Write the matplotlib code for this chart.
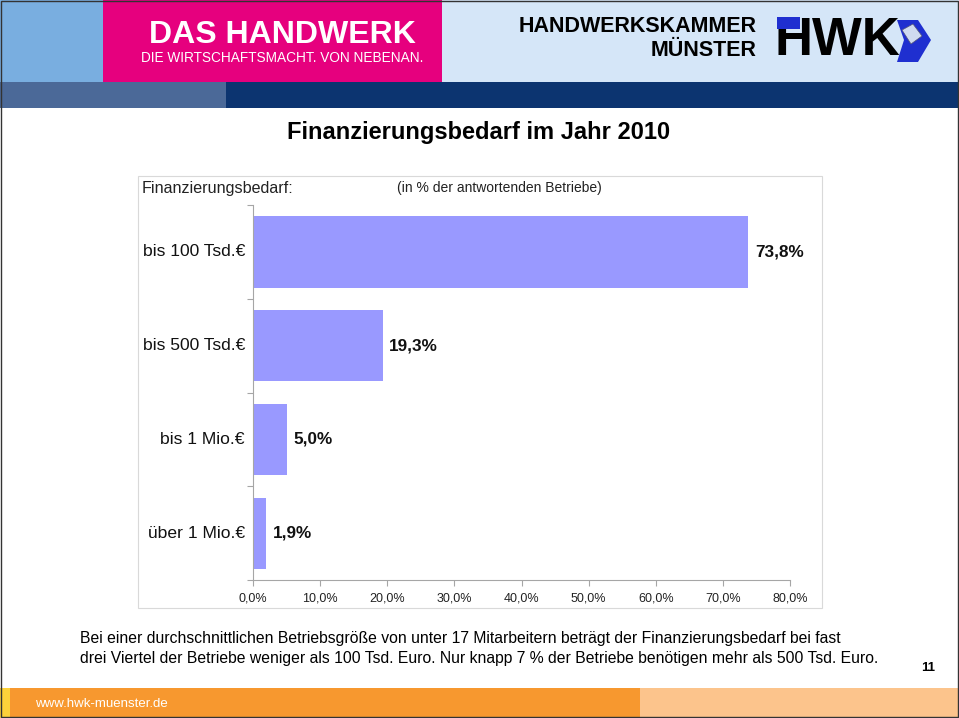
import matplotlib
matplotlib.use("Agg")
import matplotlib.pyplot as plt
from matplotlib.patches import Rectangle, Polygon
import numpy as np

plt.rcParams['font.family'] = ['Liberation Sans', 'DejaVu Sans']

# ---- data ----
categories = ["bis 100 Tsd.€", "bis 500 Tsd.€", "bis 1 Mio.€", "über 1 Mio.€"]
values = [73.8, 19.3, 5.0, 1.9]
value_labels = ["73,8%", "19,3%", "5,0%", "1,9%"]
xticks = [0, 10, 20, 30, 40, 50, 60, 70, 80]
xtick_labels = ["0,0%", "10,0%", "20,0%", "30,0%", "40,0%", "50,0%", "60,0%", "70,0%", "80,0%"]

W, H = 959, 718
fig = plt.figure(figsize=(W / 100, H / 100), dpi=100)
fig.patch.set_facecolor('white')

def px_rect(x0, y0, x1, y1, color, **kw):
    fig.patches.append(Rectangle((x0 / W, 1 - y1 / H), (x1 - x0) / W, (y1 - y0) / H,
                                 transform=fig.transFigure, facecolor=color,
                                 edgecolor=kw.pop('edgecolor', 'none'), **kw))

def px_poly(pts, color, **kw):
    fig.patches.append(Polygon([(x / W, 1 - y / H) for x, y in pts], closed=True,
                               transform=fig.transFigure, facecolor=color,
                               edgecolor=kw.pop('edgecolor', 'none'), **kw))

def px_text(x, y, s, **kw):
    fig.text(x / W, 1 - y / H, s, **kw)

# ---- header ----
px_rect(0, 0, 103, 82, '#79aee0')
px_rect(103, 0, 442, 82, '#e6007e')
px_rect(442, 0, 959, 82, '#d5e6f8')
px_rect(0, 82, 226, 108, '#4b6998')
px_rect(226, 82, 959, 108, '#0c3470')
px_text(282, 35, "DAS HANDWERK", color='white', fontsize=23, fontweight='bold',
        ha='center', va='center')
px_text(282, 58, "DIE WIRTSCHAFTSMACHT. VON NEBENAN.", color='white', fontsize=9.8,
        ha='center', va='center')
px_text(757, 27, "HANDWERKSKAMMER", color='black', fontsize=15.5, fontweight='bold',
        ha='right', va='center')
px_text(757, 50, "MÜNSTER", color='black', fontsize=15.5, fontweight='bold',
        ha='right', va='center')
px_text(837, 41, "HWK", color='black', fontsize=38, fontweight='bold',
        ha='center', va='center')
px_rect(777, 17, 800, 29, '#1f2fd0', zorder=5)
px_poly([(897, 20), (918, 20), (931, 40), (918, 62), (897, 62), (904, 40)], '#1f2fd0')
px_poly([(902, 30), (913, 24), (922, 36), (911, 44)], '#cfdaf0', edgecolor='#555577', linewidth=0.5)

# ---- title ----
px_text(479, 133, "Finanzierungsbedarf im Jahr 2010", fontsize=17, fontweight='bold',
        ha='center', va='center')

# ---- chart frame ----
px_rect(138, 176, 822, 608, 'none', edgecolor='#d9d9d9', linewidth=0.8)
px_text(142, 188, "Finanzierungsbedarf:", fontsize=11.6, ha='left', va='center', color='#222222')
px_text(397, 188, "(in % der antwortenden Betriebe)", fontsize=10, ha='left', va='center', color='#222222')

# ---- bar chart ----
ax = fig.add_axes([253 / W, 1 - 580 / H, (790 - 253) / W, (580 - 205) / H])
y = np.arange(len(categories))
ax.barh(y, values, height=0.76, color='#9999ff', edgecolor='none')
ax.set_ylim(len(categories) - 0.5, -0.5)
ax.set_xlim(0, 80)
ax.set_xticks(xticks)
ax.set_xticklabels(xtick_labels, fontsize=9, color='#222222')
ax.set_yticks(np.arange(len(categories) + 1) - 0.5)
ax.set_yticklabels([])
for yi, cat in zip(y, categories):
    ax.text(-1.2, yi, cat, ha='right', va='center', fontsize=12.6, color='#111111')
for yi, v, lab in zip(y, values, value_labels):
    ax.text(v + 1.0, yi, lab, ha='left', va='center', fontsize=12.3, fontweight='bold', color='#111111')
for side in ['top', 'right']:
    ax.spines[side].set_visible(False)
for side in ['left', 'bottom']:
    ax.spines[side].set_color('#a6a6a6')
    ax.spines[side].set_linewidth(0.8)
ax.tick_params(axis='both', direction='out', length=4, color='#a6a6a6', width=0.8)
ax.tick_params(axis='x', pad=5)
ax.set_facecolor('none')

# ---- footer text ----
px_text(80, 638, "Bei einer durchschnittlichen Betriebsgröße von unter 17 Mitarbeitern beträgt der Finanzierungsbedarf bei fast",
        fontsize=11.35, ha='left', va='center')
px_text(80, 659, "drei Viertel der Betriebe weniger als 100 Tsd. Euro. Nur knapp 7 % der Betriebe benötigen mehr als 500 Tsd. Euro.",
        fontsize=11.35, ha='left', va='center')
px_text(928, 668, "11", fontsize=9.5, fontweight='bold', ha='center', va='center')

# ---- footer band ----
px_rect(0, 688, 640, 718, '#f7982f')
px_rect(640, 688, 959, 718, '#fcc48c')
px_rect(0, 688, 10, 718, '#fdd23a')
px_text(35, 704, "www.hwk-muenster.de", color='white', fontsize=9.5, ha='left', va='center')

# outer border
px_rect(1, 1, 958, 717, 'none', edgecolor='#333333', linewidth=1.0)

fig.savefig("out.png", dpi=100)
